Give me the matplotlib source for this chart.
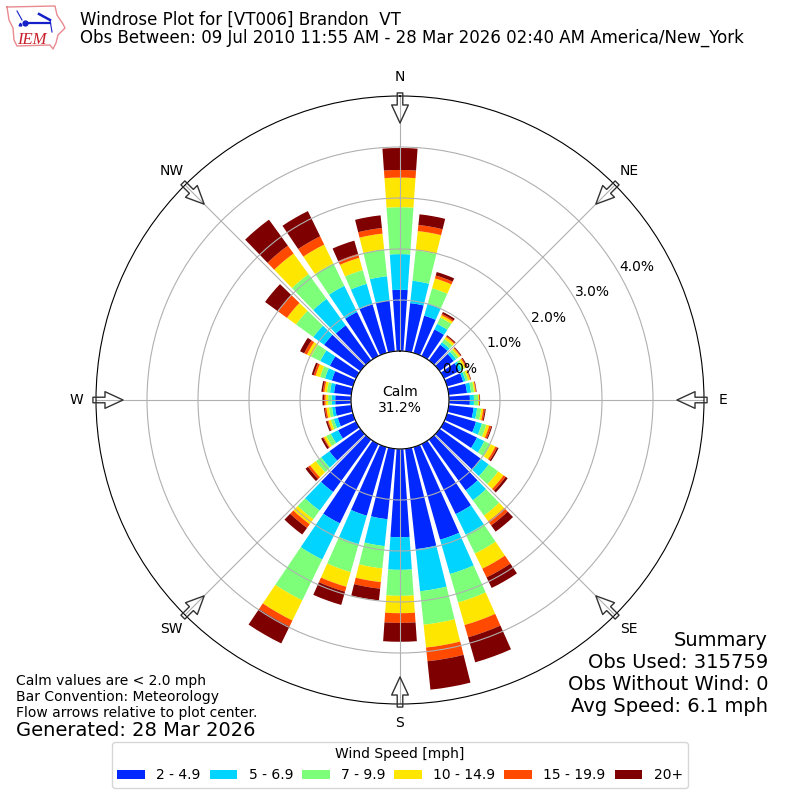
import numpy as np
from matplotlib import pyplot as plt
from matplotlib.lines import Line2D

# cumulative percent at the top of each speed class, 0, 10, ... 350 degrees
directions = np.arange(0, 360, 10)
top_2 = [1.20, .95, .76, .58, .38, .34, .33, .33, .36, .41, .49, .59, .72, 1.00, 1.23, 1.53, 1.89, 1.98,
         1.73, 1.39, 1.40, 1.73, 1.27, .75, .39, .31, .32, .31, .34, .43, .57, .88, .85, .96, .99, 1.00]
top_5 = [1.90, 1.39, 1.01, .70, .44, .40, .39, .38, .44, .49, .56, .71, .88, 1.19, 1.47, 1.98, 2.59, 2.81,
         2.37, 1.92, 1.98, 2.52, 1.72, .95, .55, .39, .38, .38, .42, .57, .78, 1.14, 1.49, 1.53, 1.41, 1.48]
top_7 = [2.82, 1.99, 1.32, .84, .52, .46, .44, .43, .50, .57, .64, .80, 1.02, 1.42, 1.84, 2.39, 3.17, 3.47,
         2.88, 2.36, 2.55, 3.41, 1.93, 1.08, .65, .45, .44, .45, .48, .67, .98, 1.56, 2.09, 2.02, 1.69, 2.01]
top_10 = [3.40, 2.37, 1.52, .89, .57, .50, .48, .47, .53, .59, .68, .86, 1.12, 1.55, 1.98, 2.72, 3.63, 3.92,
          3.22, 2.63, 2.85, 3.85, 2.05, 1.22, .70, .50, .49, .50, .53, .76, 1.07, 1.78, 2.59, 2.43, 1.94, 2.32]
top_15 = [3.55, 2.49, 1.58, .92, .59, .515, .50, .48, .54, .60, .71, .90, 1.16, 1.60, 2.08, 2.91, 3.88, 4.19,
          3.41, 2.76, 2.95, 3.98, 2.14, 1.27, .72, .52, .52, .53, .56, .80, 1.13, 2.00, 2.78, 2.61, 2.02, 2.43]
top_20 = [3.98, 2.70, 1.65, .96, .61, .53, .52, .49, .55, .61, .73, .92, 1.19, 1.65, 2.23, 3.14, 4.39, 4.75,
          3.78, 2.99, 3.22, 4.35, 2.30, 1.33, .76, .55, .54, .56, .59, .84, 1.22, 2.31, 3.41, 3.16, 2.29, 2.68]

speed_tops = [top_2, top_5, top_7, top_10, top_15, top_20]
speed_labels = ['2 - 4.9', '5 - 6.9', '7 - 9.9', '10 - 14.9', '15 - 19.9', '20+']
speed_colors = ['#0028ff', '#00d4ff', '#7dff7a', '#ffe600', '#ff4a00', '#7f0000']
compass = ['N', 'NE', 'E', 'SE', 'S', 'SW', 'W', 'NW']

fig = plt.figure(figsize=(8, 8), dpi=100)
ax = fig.add_axes([0.12, 0.12, 0.76, 0.76], projection='polar')
ax.set_theta_zero_location('N')
ax.set_theta_direction(-1)

theta = np.radians(directions)
bottom = np.zeros(len(directions))
for tops, label, color in zip(speed_tops, speed_labels, speed_colors):
    tops = np.array(tops)
    ax.bar(theta, tops - bottom, width=np.radians(8), bottom=bottom, color=color, label=label, linewidth=0)
    bottom = tops

ax.set_ylim(0, 5)
ax.set_rorigin(-0.96)
ax.set_yticks([0, 1, 2, 3, 4])
ax.set_yticklabels(['0.0%', '1.0%', '2.0%', '3.0%', '4.0%'])
ax.set_rlabel_position(60)
ax.set_thetagrids(np.arange(0, 360, 45), compass)
ax.tick_params(axis='x', pad=3.5)
ax.grid(True)

# flow arrows around the edge
for angle in np.arange(0, 360, 45):
    ax.annotate('', xy=(np.radians(angle), 4.47), xytext=(np.radians(angle), 5.06),
                annotation_clip=False,
                arrowprops=dict(width=4, headwidth=12, headlength=13, facecolor='none',
                                edgecolor='#333333', linewidth=1))

fig.text(0.5, 0.5, 'Calm\n31.2%', ha='center', va='center', fontsize=10)
fig.text(0.1, 0.964, 'Windrose Plot for [VT006] Brandon  VT\n'
         'Obs Between: 09 Jul 2010 11:55 AM - 28 Mar 2026 02:40 AM America/New_York',
         ha='left', va='center', fontsize=12, linespacing=1.0)
fig.text(0.96, 0.105, 'Summary\nObs Used: 315759\nObs Without Wind: 0\nAvg Speed: 6.1 mph',
         ha='right', va='bottom', fontsize=14)
fig.text(0.02, 0.1, 'Calm values are < 2.0 mph\nBar Convention: Meteorology\nFlow arrows relative to plot center.',
         ha='left', va='bottom', fontsize=10)
fig.text(0.02, 0.0875, 'Generated: 28 Mar 2026', ha='left', va='center', fontsize=14)

fig.legend(loc='lower center', bbox_to_anchor=(0.5, 0.0065), ncol=6, title='Wind Speed [mph]', fontsize=10,
           title_fontsize=10, columnspacing=0.65)

# small IEM logo, coordinates in pixels from the top left corner
logo = fig.add_axes([0, 0.93, 0.0875, 0.07])
logo.set_xlim(0, 70)
logo.set_ylim(56, 0)
logo.axis('off')
state_x = [7, 55, 57, 63, 65, 58, 56, 53, 50, 17, 14, 13, 9, 7]
state_y = [7, 6, 15, 24, 28, 35, 43, 49, 45, 46, 40, 28, 20, 7]
logo.add_line(Line2D(state_x, state_y, color='#e88a90', lw=1))
logo.plot([25, 50], [23, 23], color='#1520c8', lw=1.6)
logo.plot([17, 22], [11, 20], color='#1520c8', lw=0.8)
logo.plot([39, 50], [14, 20], color='#1520c8', lw=1.8)
logo.plot([50, 52], [20, 32], color='#1520c8', lw=0.8)
logo.plot([25], [23], 'o', color='#1520c8', ms=3.5)
logo.plot([20], [24], '^', color='#1520c8', ms=2)
logo.text(17, 44, 'IEM', color='#c8202a', fontsize=12, family='Liberation Serif', style='italic', ha='left', va='baseline')

fig.savefig('out.png', dpi=100)
